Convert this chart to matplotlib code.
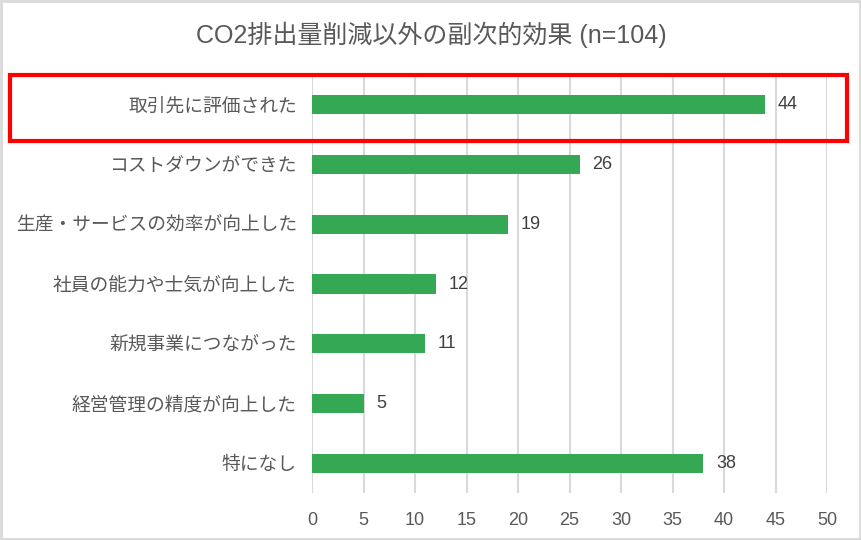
import matplotlib
matplotlib.use("Agg")
from matplotlib import pyplot as plt
from matplotlib.patches import Rectangle

plt.rcParams['font.family'] = ['Liberation Sans', 'Noto Sans CJK JP', 'DejaVu Sans']

categories = ['取引先に評価された', 'コストダウンができた', '生産・サービスの効率が向上した',
              '社員の能力や士気が向上した', '新規事業につながった', '経営管理の精度が向上した', '特になし']
counts = [44, 26, 19, 12, 11, 5, 38]
x_ticks = [0, 5, 10, 15, 20, 25, 30, 35, 40, 45, 50]
title = 'CO2排出量削減以外の副次的効果 (n=104)'

text_color = '#595959'
bar_color = '#34a853'


def main():
    fig = plt.figure(figsize=(8.62, 5.40), dpi=100)
    ax = fig.add_axes([0.362, 0.087, 0.5974, 0.774])

    y_pos = list(range(len(categories)))
    ax.barh(y_pos, counts, height=0.32, color=bar_color, zorder=3)
    for y, v in zip(y_pos, counts):
        ax.annotate(str(v), (v, y), xytext=(9, 0), textcoords='offset points',
                    va='center', ha='left', fontsize=13, color='#404040')

    ax.set_ylim(len(categories) - 0.5, -0.5)
    ax.set_xlim(0, 50)
    ax.set_xticks(x_ticks)
    ax.set_yticks(y_pos)
    ax.set_yticklabels(categories)
    ax.tick_params(axis='y', length=0, pad=11, labelsize=13.5, labelcolor=text_color)
    ax.tick_params(axis='x', length=0, pad=14, labelsize=13, labelcolor=text_color)
    ax.grid(axis='x', color='#d9d9d9', linewidth=1.5, zorder=0)
    for s in ax.spines.values():
        s.set_visible(False)

    fig.text(0.5, 0.935, title, ha='center', va='center', fontsize=18, color=text_color)

    # highlight box around the first row
    fig.patches.append(Rectangle((10 / 862, 1 - 141 / 540), 837 / 862, 66 / 540,
                                 transform=fig.transFigure, fill=False,
                                 edgecolor='#ff0000', linewidth=3))
    # outer frame
    fig.patches.append(Rectangle((0.001, 0.002), 0.997, 0.996, transform=fig.transFigure,
                                 fill=False, edgecolor='#d9d9d9', linewidth=2))

    fig.savefig('out.png', dpi=100)


if __name__ == "__main__":
    main()
